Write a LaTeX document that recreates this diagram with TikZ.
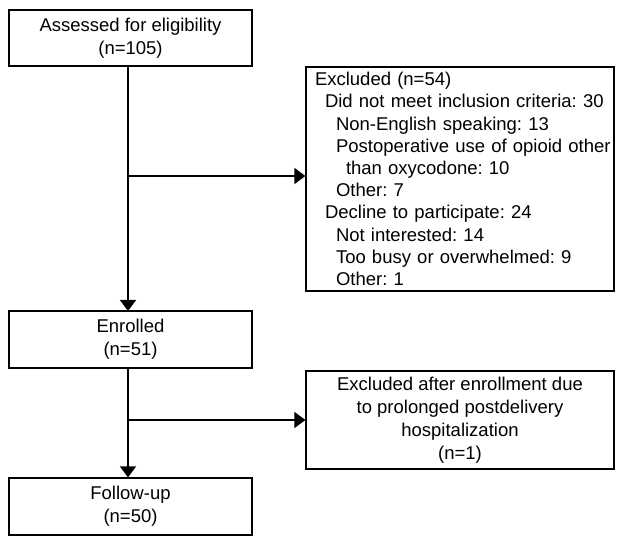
\documentclass[tikz,border=0pt]{standalone}
\usepackage{fontspec}
\setmainfont{Liberation Sans}
\usetikzlibrary{arrows.meta}
\frenchspacing

\begin{document}
\begin{tikzpicture}[x=1pt,y=-1pt,
  box/.style={draw,line width=1.2pt,inner sep=0pt,align=center,
    minimum width=243pt,font=\fontsize{18.5}{23}\selectfont},
  sidebox/.style={box,minimum width=308pt},
  flow/.style={line width=1.2pt,-{Triangle[width=16pt,length=11pt]}}]
  \useasboundingbox (0,0) rectangle (624,545);
  % main column
  \node[box,minimum height=56pt] (assessed) at (130.5,38) {Assessed for eligibility\\(n=105)};
  \node[box,minimum height=57pt] (enrolled) at (130.5,339.5) {Enrolled\\(n=51)};
  \node[box,minimum height=57pt] (followup) at (130.5,506.5) {Follow-up\\(n=50)};
  % side boxes
  \node[sidebox,minimum height=224pt,align=left,text width=300pt,inner xsep=4pt,
    font=\fontsize{18.5}{22.2}\selectfont] (excl) at (460,179)
    {\mbox{\hspace*{5pt}Excluded (n=54)}\\
     \mbox{\hspace*{15pt}Did not meet inclusion criteria: 30}\\
     \mbox{\hspace*{26pt}Non-English speaking: 13}\\
     \mbox{\hspace*{26pt}Postoperative use of opioid other}\\
     \mbox{\hspace*{36pt}than oxycodone: 10}\\
     \mbox{\hspace*{26pt}Other: 7}\\
     \mbox{\hspace*{15pt}Decline to participate: 24}\\
     \mbox{\hspace*{26pt}Not interested: 14}\\
     \mbox{\hspace*{26pt}Too busy or overwhelmed: 9}\\
     \mbox{\hspace*{26pt}Other: 1}};
  \node[sidebox,minimum height=98pt] (exclafter) at (460,420)
    {Excluded after enrollment due\\to prolonged postdelivery\\hospitalization\\(n=1)};
  % connectors
  \coordinate (top) at (128,66);
  \coordinate (mid) at (128,311);
  \coordinate (bot) at (128,368);
  \coordinate (split1) at (128,176);
  \coordinate (split2) at (128,420);
  \draw[flow] (top) -- (mid);
  \draw[flow] (split1) -- (excl.west |- split1);
  \draw[flow] (bot) -- (followup.north -| bot);
  \draw[flow] (split2) -- (exclafter.west |- split2);
\end{tikzpicture}
\end{document}
